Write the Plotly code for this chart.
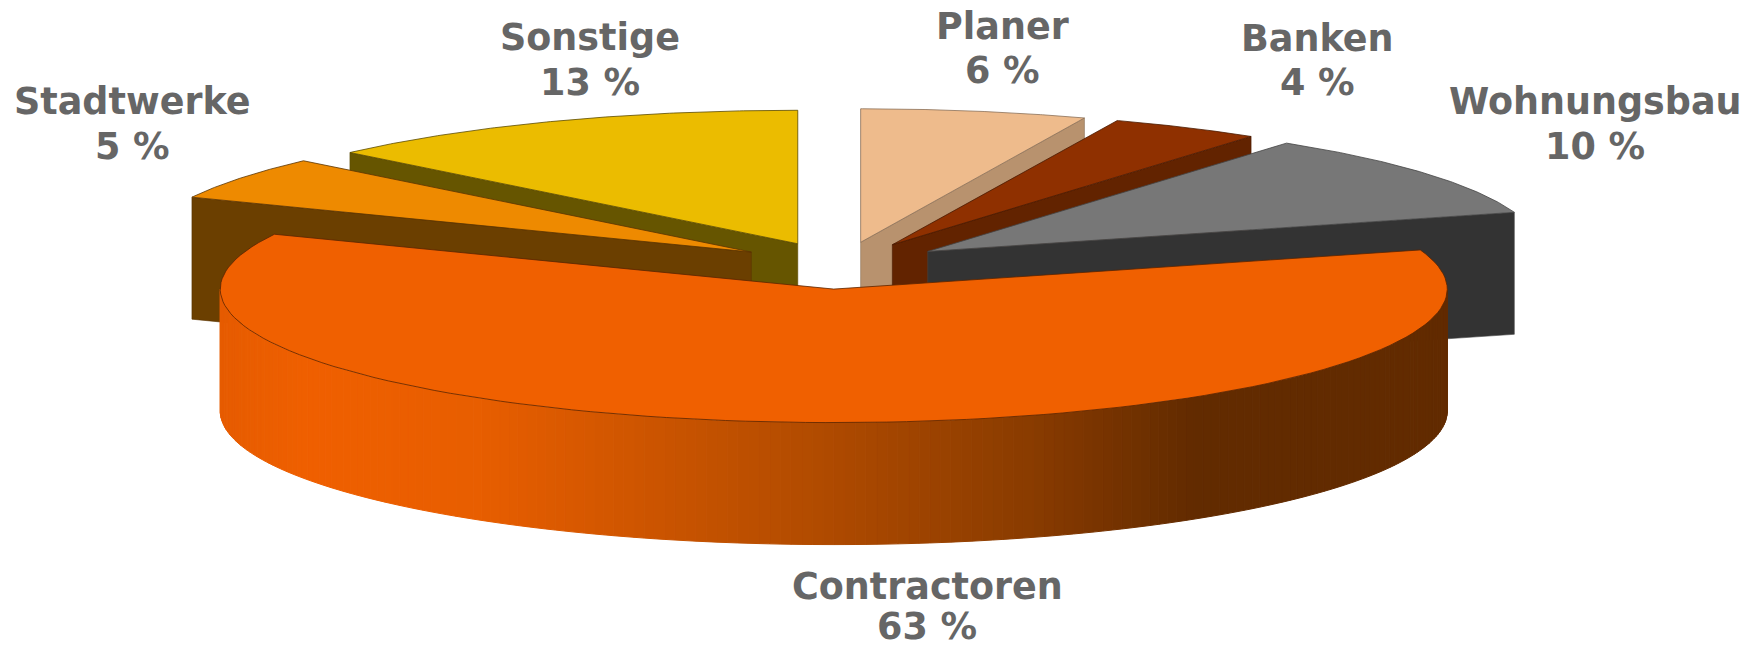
import numpy as np
import plotly.graph_objects as go

# --- data ---
labels = ["Planer", "Banken", "Wohnungsbau", "Contractoren", "Stadtwerke", "Sonstige"]
values = [6, 4, 10, 63, 5, 13]

# --- styles ---
top_colors = ["#eebb8c", "#8f3000", "#777777", "#f06000", "#ee8a00", "#ebbc00"]
face_colors = ["#b8926e", "#622300", "#333333", "#622b00", "#6b3f00", "#665500"]
edge_colors = ["#8a7058", "#4a1a00", "#444444", "#5a2400", "#5a3400", "#5a4a00"]
draw_order = [0, 1, 2, 5, 4, 3]
label_x = [1002, 1317, 1595, 927, 132, 590]
name_y = [26, 38, 101, 586, 101, 37]
value_y = [70, 82, 146, 626, 146, 82]

# wall gradient of the big slice, by horizontal position
grad_x = [217, 308, 480, 780, 1029, 1195, 1450]
grad_r = [0xe6, 0xf0, 0xe8, 0xb8, 0x8a, 0x62, 0x62]
grad_g = [0x5c, 0x60, 0x5e, 0x4e, 0x3c, 0x2b, 0x2b]
grad_b = [0, 0, 0, 0, 0, 0, 0]

# --- projection of the pie (pixels of the canvas) ---
CX, CY, RX, RY, DEPTH, EXPLODE = 840.5, 265.5, 613.5, 133.5, 122.0, 0.177
VIEW_WARP = np.radians(3.8)  # angles close to the sides drift slightly towards them

fractions = np.array(values, dtype=float) / sum(values) * 2 * np.pi
ends = np.cumsum(fractions)
starts = ends - fractions


def view(t):
    return t + VIEW_WARP * np.sin(2 * t) * np.sin(t) ** 6


def poly(x, y, fill, line, width=0.8):
    return go.Scatter(x=x, y=y, mode="lines", fill="toself", fillcolor=fill,
                      line=dict(color=line, width=width), hoverinfo="skip",
                      showlegend=False)


fig = go.Figure()
for i in draw_order:
    a0, a1 = starts[i], ends[i]
    mid = (a0 + a1) / 2
    ax = CX + EXPLODE * RX * np.sin(mid)
    ay = CY - EXPLODE * RY * np.cos(mid)
    th = view(np.linspace(a0, a1, 120))
    ex = ax + RX * np.sin(th)
    ey = ay - RY * np.cos(th)

    if i == 3:
        # curved front wall with a horizontal colour gradient
        wall = np.linspace(np.pi / 2, 3 * np.pi / 2, 181)
        for t0, t1 in zip(wall[:-1], wall[1:]):
            x0, x1 = ax + RX * np.sin(t0), ax + RX * np.sin(t1)
            y0, y1 = ay - RY * np.cos(t0), ay - RY * np.cos(t1)
            xm = (x0 + x1) / 2
            c = "rgb(%d,%d,%d)" % (np.interp(xm, grad_x, grad_r),
                                   np.interp(xm, grad_x, grad_g),
                                   np.interp(xm, grad_x, grad_b))
            fig.add_trace(poly([x0, x1, x1, x0, x0],
                               [y0, y1, y1 + DEPTH, y0 + DEPTH, y0], c, c, 1))
    else:
        edge = view(a0) if i in (4, 5) else view(a1)
        ox, oy = ax + RX * np.sin(edge), ay - RY * np.cos(edge)
        fig.add_trace(poly([ax, ox, ox, ax, ax],
                           [ay, oy, oy + DEPTH, ay + DEPTH, ay],
                           face_colors[i], edge_colors[i], 0.6))
    fig.add_trace(poly(np.r_[ax, ex, ax], np.r_[ay, ey, ay],
                       top_colors[i], edge_colors[i], 0.8))

font = dict(family="DejaVu Sans", size=36.5, color="#666666", weight="bold")
annotations = []
for lab, val, x, y0, y1 in zip(labels, values, label_x, name_y, value_y):
    annotations.append(dict(x=x, y=y0, xref="x", yref="y", text=lab, showarrow=False,
                            xanchor="center", yanchor="middle", font=font))
    annotations.append(dict(x=x, y=y1, xref="x", yref="y", text=f"{val} %", showarrow=False,
                            xanchor="center", yanchor="middle", font=font))

fig.update_layout(
    width=1764, height=648, margin=dict(l=0, r=0, t=0, b=0),
    paper_bgcolor="white", plot_bgcolor="white", showlegend=False,
    xaxis=dict(range=[0, 1764], visible=False, fixedrange=True),
    yaxis=dict(range=[648, 0], visible=False, fixedrange=True),
    annotations=annotations,
)
fig.write_html("out.html", config=dict(displayModeBar=False),
               post_script="document.body.style.margin='0';document.body.style.overflow='hidden';")
